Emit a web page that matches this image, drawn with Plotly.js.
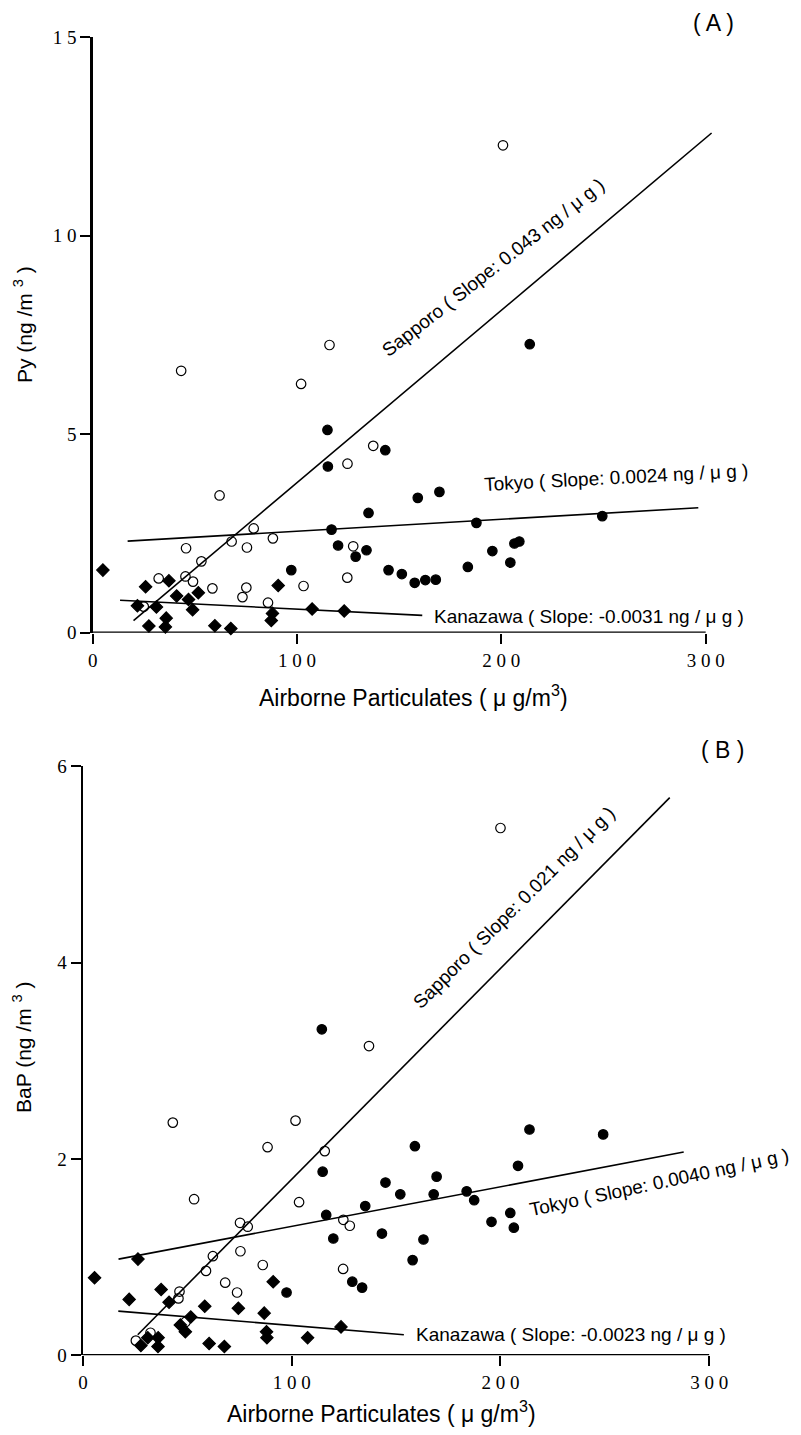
<!DOCTYPE html>
<html>
<head>
<meta charset="utf-8">
<script src="https://cdn.plot.ly/plotly-3.0.1.min.js"></script>
<style>html,body{margin:0;padding:0;background:#fff;}#chart{width:801px;height:1435px;}</style>
</head>
<body>
<div id="chart"></div>
<script>
// ---------- Panel A : Py ----------
const A_sapporoX = [43.3,115.9,102.0,62.1,137.3,124.7,78.8,68.0,88.2,45.7,75.5,127.5,53.2,45.4,49.1,32.3,58.6,75.2,73.3,103.2,124.6,85.8,25.0,200.8];
const A_sapporoY = [6.60,7.25,6.27,3.46,4.71,4.26,2.63,2.30,2.38,2.13,2.15,2.18,1.80,1.42,1.29,1.37,1.12,1.14,0.90,1.18,1.39,0.76,0.66,12.28];
const A_tokyoX = [114.9,115.1,143.2,135.0,116.9,120.1,134.0,128.7,97.2,144.8,151.3,213.9,159.1,169.7,187.8,249.4,206.4,208.8,195.6,204.4,183.6,157.6,162.8,167.9];
const A_tokyoY = [5.11,4.19,4.60,3.02,2.60,2.20,2.08,1.92,1.58,1.58,1.48,7.27,3.40,3.55,2.77,2.94,2.25,2.30,2.06,1.77,1.66,1.26,1.33,1.34];
const A_kanazawaX = [5.0,25.9,37.3,21.9,31.2,41.1,46.9,51.7,48.9,36.0,27.5,35.6,59.8,67.6,90.8,88.0,87.4,107.4,123.1];
const A_kanazawaY = [1.58,1.16,1.31,0.68,0.65,0.93,0.84,1.01,0.58,0.37,0.17,0.15,0.18,0.11,1.19,0.49,0.31,0.60,0.55];
// regression lines (end points)
const A_fitSapporoX = [20.0, 302.9], A_fitSapporoY = [0.31, 12.59];
const A_fitTokyoX = [17.1, 296.4],   A_fitTokyoY = [2.31, 3.15];
const A_fitKanazawaX = [13.4, 161.3], A_fitKanazawaY = [0.82, 0.44];

// ---------- Panel B : BaP ----------
const B_sapporoX = [43.0,101.8,88.4,115.8,53.2,103.5,75.2,78.9,124.7,127.8,62.2,75.4,58.9,86.1,124.6,68.1,73.8,46.2,45.7,49.1,32.3,25.3,137.0,200.0];
const B_sapporoY = [2.37,2.39,2.12,2.08,1.59,1.56,1.35,1.31,1.38,1.32,1.01,1.06,0.86,0.92,0.88,0.74,0.64,0.65,0.58,0.34,0.23,0.15,3.15,5.37];
const B_tokyoX = [114.4,114.8,116.5,119.9,135.2,144.9,143.2,129.0,133.7,97.5,152.0,159.0,213.9,249.2,208.4,169.4,168.0,183.8,187.4,195.7,204.7,206.4,163.1,157.9];
const B_tokyoY = [3.32,1.87,1.43,1.19,1.52,1.76,1.24,0.75,0.69,0.64,1.64,2.13,2.30,2.25,1.93,1.82,1.64,1.67,1.58,1.36,1.45,1.30,1.18,0.97];
const B_kanazawaX = [5.5,26.3,22.1,37.4,41.2,51.6,46.6,49.0,58.3,74.4,91.1,86.8,87.9,88.1,107.6,123.6,27.7,31.0,36.0,35.9,60.4,67.7];
const B_kanazawaY = [0.79,0.98,0.57,0.67,0.54,0.39,0.31,0.24,0.50,0.48,0.75,0.43,0.24,0.18,0.18,0.29,0.10,0.18,0.18,0.09,0.12,0.09];
const B_fitSapporoX = [26.2, 281.1], B_fitSapporoY = [0.21, 5.68];
const B_fitTokyoX = [17.0, 287.8],   B_fitTokyoY = [0.98, 2.07];
const B_fitKanazawaX = [16.9, 153.7], B_fitKanazawaY = [0.45, 0.21];

// ---------- tick labels ----------
const xTickVals = [0, 100, 200, 300];
const xTickText = ["0", "1 0 0", "2 0 0", "3 0 0"];
const A_yTickVals = [0, 5, 10, 15];
const A_yTickText = ["0", "5", "1 0", "1 5"];
const B_yTickVals = [0, 2, 4, 6];
const B_yTickText = ["0", "2", "4", "6"];

const labels = {
  A_sapporo: "Sapporo ( Slope: 0.043 ng / \u03bc g )",
  A_tokyo: "Tokyo ( Slope: 0.0024 ng / \u03bc g )",
  A_kanazawa: "Kanazawa ( Slope: -0.0031 ng / \u03bc g )",
  B_sapporo: "Sapporo ( Slope: 0.021 ng / \u03bc g )",
  B_tokyo: "Tokyo ( Slope: 0.0040 ng / \u03bc g )",
  B_kanazawa: "Kanazawa ( Slope: -0.0023 ng / \u03bc g )"
};

const BLK = '#000';
const SANS = 'Liberation Sans, Arial, sans-serif';
const SERIF = 'Liberation Serif, Times New Roman, serif';

function pts(x, y, xa, ya, symbol) {
  return {x, y, xaxis: xa, yaxis: ya, type: 'scatter', mode: 'markers', cliponaxis: false,
    marker: {symbol, size: 9.5, color: BLK, line: {color: BLK, width: 1.2}}, showlegend: false, hoverinfo: 'skip'};
}
function fit(x, y, xa, ya) {
  return {x, y, xaxis: xa, yaxis: ya, type: 'scatter', mode: 'lines',
    line: {color: BLK, width: 1.6}, showlegend: false, hoverinfo: 'skip'};
}

const data = [
  fit(A_fitSapporoX, A_fitSapporoY, 'x', 'y'),
  fit(A_fitTokyoX, A_fitTokyoY, 'x', 'y'),
  fit(A_fitKanazawaX, A_fitKanazawaY, 'x', 'y'),
  pts(A_sapporoX, A_sapporoY, 'x', 'y', 'circle-open'),
  pts(A_tokyoX, A_tokyoY, 'x', 'y', 'circle'),
  pts(A_kanazawaX, A_kanazawaY, 'x', 'y', 'diamond'),
  fit(B_fitSapporoX, B_fitSapporoY, 'x2', 'y2'),
  fit(B_fitTokyoX, B_fitTokyoY, 'x2', 'y2'),
  fit(B_fitKanazawaX, B_fitKanazawaY, 'x2', 'y2'),
  pts(B_sapporoX, B_sapporoY, 'x2', 'y2', 'circle-open'),
  pts(B_tokyoX, B_tokyoY, 'x2', 'y2', 'circle'),
  pts(B_kanazawaX, B_kanazawaY, 'x2', 'y2', 'diamond')
];

const tickFont = {family: SERIF, size: 19, color: BLK};
function xAxis(domain, anchor) {
  return {domain, anchor, range: [0, 306], showline: false, zeroline: false, showgrid: false,
    ticks: 'outside', ticklen: 10, tickwidth: 2, tickcolor: BLK,
    tickvals: xTickVals, ticktext: xTickText, tickfont: tickFont, fixedrange: true};
}
function yAxis(domain, anchor, range, vals, text) {
  return {domain, anchor, range, showline: true, linewidth: 2.5, linecolor: BLK, zeroline: false, showgrid: false,
    ticks: 'outside', ticklen: 10, tickwidth: 2, tickcolor: BLK,
    tickvals: vals, ticktext: text, tickfont: tickFont, fixedrange: true};
}

const W = 801, H = 1435;
const px = v => v / W, py = v => 1 - v / H;
const lblFont = {family: SANS, size: 19, color: BLK};
function ann(o) { return Object.assign({showarrow: false, xanchor: 'center', yanchor: 'middle'}, o); }

const layout = {
  width: W, height: H, margin: {l: 0, r: 0, t: 0, b: 0},
  paper_bgcolor: '#fff', plot_bgcolor: '#fff',
  xaxis: xAxis([0.1157, 0.8963], 'y'),
  yaxis: yAxis([0.5590, 0.9740], 'x', [0, 15], A_yTickVals, A_yTickText),
  xaxis2: xAxis([0.1037, 0.9010], 'y2'),
  yaxis2: yAxis([0.0555, 0.4661], 'x2', [0, 6], B_yTickVals, B_yTickText),
  shapes: [
    {type: 'line', xref: 'x', yref: 'y', x0: 0, x1: 300, y0: 0, y1: 0, line: {color: BLK, width: 2.5}},
    {type: 'line', xref: 'x2', yref: 'y2', x0: 0, x1: 300, y0: 0, y1: 0, line: {color: BLK, width: 2.5}}
  ],
  annotations: [
    ann({xref: 'x', yref: 'y', x: 196.0, y: 9.21, text: labels.A_sapporo, textangle: -38, font: lblFont}),
    ann({xref: 'x', yref: 'y', x: 256.1, y: 3.91, text: labels.A_tokyo, textangle: -3, font: lblFont}),
    ann({xref: 'x', yref: 'y', x: 242.7, y: 0.42, text: labels.A_kanazawa, textangle: 0, font: lblFont}),
    ann({xref: 'x2', yref: 'y2', x: 206.5, y: 4.56, text: labels.B_sapporo, textangle: -45, font: lblFont}),
    ann({xref: 'x2', yref: 'y2', x: 275.8, y: 1.76, text: labels.B_tokyo, textangle: -12, font: lblFont}),
    ann({xref: 'x2', yref: 'y2', x: 234.0, y: 0.21, text: labels.B_kanazawa, textangle: 0, font: lblFont}),
    ann({xref: 'paper', yref: 'paper', x: px(713), y: py(23), text: '( A )', font: {family: SANS, size: 23, color: BLK}}),
    ann({xref: 'paper', yref: 'paper', x: px(722), y: py(750), text: '( B )', font: {family: SANS, size: 23, color: BLK}}),
    ann({xref: 'paper', yref: 'paper', x: px(413), y: py(713), yanchor: 'bottom', text: 'Airborne Particulates ( \u03bc g/m<sup>3</sup>)', font: {family: SANS, size: 23, color: BLK}}),
    ann({xref: 'paper', yref: 'paper', x: px(381), y: py(1429), yanchor: 'bottom', text: 'Airborne Particulates ( \u03bc g/m<sup>3</sup>)', font: {family: SANS, size: 23, color: BLK}}),
    ann({xref: 'paper', yref: 'paper', x: px(23), y: py(325), text: 'Py (ng /m <sup>3</sup> )', textangle: -90, font: {family: SANS, size: 21, color: BLK}}),
    ann({xref: 'paper', yref: 'paper', x: px(22), y: py(1047), text: 'BaP (ng /m <sup>3</sup> )', textangle: -90, font: {family: SANS, size: 21, color: BLK}})
  ]
};

Plotly.newPlot('chart', data, layout, {staticPlot: true, displayModeBar: false});
</script>
</body>
</html>
